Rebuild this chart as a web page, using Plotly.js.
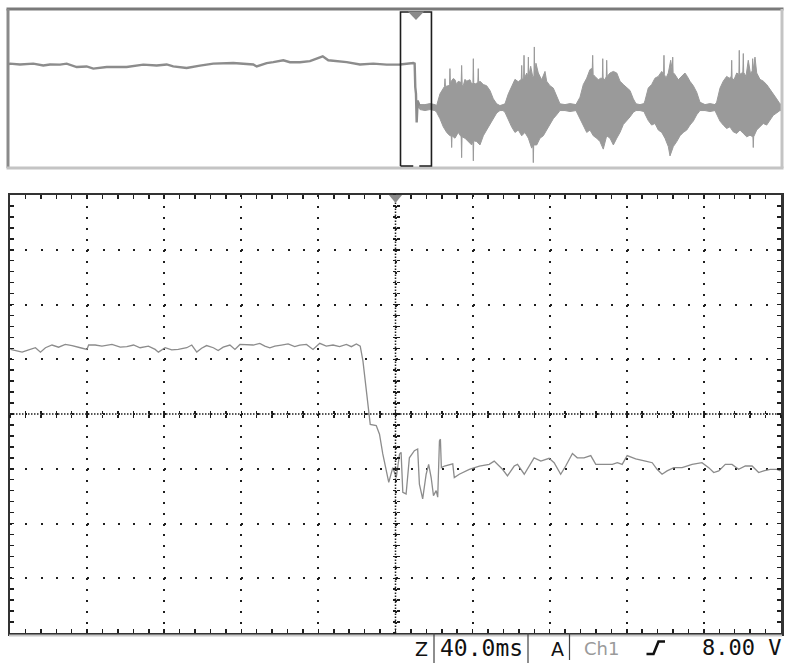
<!DOCTYPE html>
<html><head><meta charset="utf-8">
<script src="https://cdn.plot.ly/plotly-3.0.1.min.js"></script>
<style>html,body{margin:0;padding:0;background:#fff}#chart{width:785px;height:663px}</style>
</head><body><div id="chart"></div>
<script>
// ---- Main (zoomed) window: time in ms (40 ms/div), level in V (assumed 10 V/div) ----
const mainT = [-199.8,-197.2,-193.7,-190.3,-186.8,-184.2,-181.6,-178.2,-174.8,-171.3,-167.8,-163.5,-160.1,-159.2,-155.8,-152.3,-147.1,-142.8,-139.4,-135.9,-132.5,-128.2,-124.7,-123.0,-119.5,-116.1,-112.7,-108.3,-105.7,-103.1,-100.6,-98.0,-94.5,-92.0,-89.4,-85.9,-83.3,-80.7,-77.3,-73.8,-70.4,-67.8,-65.2,-62.6,-59.2,-55.7,-52.3,-49.7,-46.2,-42.8,-39.3,-35.9,-32.4,-29.0,-25.5,-22.9,-20.3,-19.0,
 -18.3,-16.9,-15.2,-14.3,-13.1,-10.0,-8.3,-6.6,-4.8,-3.5,-1.4,0.4,2.1,2.9,3.8,5.5,7.2,9.8,11.5,12.4,14.1,15.9,17.2,18.5,19.7,21.1,21.9,22.8,23.3,23.8,25.4,27.9,29.7,30.5,33.1,
 38.3,43.5,48.6,51.2,55.5,58.1,61.6,63.3,66.8,71.9,75.4,79.7,82.3,85.7,88.3,91.8,94.3,97.8,101.3,103.9,107.3,112.5,115.1,117.6,120.2,124.6,129.7,133.2,135.7,138.3,140.9,144.4,148.7,153.9,159.0,162.5,165.1,167.7,171.1,174.6,178.0,181.5,185.0,188.4,191.0,194.4,197.8,199.8];
const mainV = [11.8,11.6,11.3,11.7,12.1,11.3,12.1,12.6,12.2,12.7,12.5,12.1,11.8,12.6,12.6,12.4,12.7,12.2,12.3,12.6,12.1,12.4,11.8,11.3,12.1,11.7,11.8,12.1,12.6,11.3,12.0,12.5,12.1,11.6,12.2,12.6,11.8,12.7,12.7,12.6,12.9,12.4,12.1,12.4,12.6,12.8,12.3,12.6,12.7,11.8,12.9,12.4,12.6,12.3,12.7,12.3,12.8,12.6,
 12.4,9.7,4.8,1.1,-1.9,-2.1,-3.7,-7.3,-10.4,-12.5,-9.8,-11.6,-7.3,-7.0,-14.3,-14.6,-8.0,-6.7,-6.4,-12.8,-15.5,-11.0,-9.2,-11.6,-14.9,-14.0,-15.2,-4.9,-4.6,-9.8,-9.5,-9.2,-9.1,-11.6,-11.0,
 -10.1,-9.5,-9.2,-8.6,-10.1,-11.3,-9.5,-9.2,-11.0,-8.0,-8.6,-8.1,-8.9,-11.0,-9.5,-7.2,-8.0,-8.0,-7.6,-9.2,-9.2,-9.2,-8.9,-9.2,-7.6,-8.2,-8.6,-8.9,-10.1,-11.0,-10.4,-9.8,-9.8,-9.2,-8.9,-9.8,-10.7,-10.4,-9.2,-9.2,-10.1,-9.5,-9.5,-10.7,-10.4,-10.1,-10.1,-10.4];

// ---- Overview (whole record, time in s) ----
const ovPreT = [-5.271,-5.245,-5.116,-4.944,-4.815,-4.729,-4.599,-4.513,-4.384,-4.255,-4.169,-3.996,-3.738,-3.523,-3.350,-3.221,-3.136,-2.963,-2.791,-2.619,-2.361,-2.102,-2.058,-1.929,-1.844,-1.714,-1.628,-1.499,-1.370,-1.283,-1.205,-1.133,-1.025,-0.895,-0.724,-0.552,-0.379,-0.207,-0.035,-0.017,-0.009,0.000,0.009,0.022,0.043];
const ovPreV = [12.1,12.5,12.1,12.5,11.6,12.1,12.0,12.5,10.8,11.1,10.0,10.8,10.8,12.0,11.6,12.1,11.1,10.3,11.5,12.5,12.8,12.1,11.1,12.8,13.3,14.2,13.2,13.2,13.8,15.0,16.2,14.2,13.8,13.3,12.1,12.5,12.0,12.1,12.8,12.5,0.7,-2.7,-17.1,-6.1,-8.6];

const ovHiT = [0.022,0.052,0.116,0.181,0.245,0.267,0.310,0.332,0.368,0.375,0.381,0.417,0.434,0.439,0.444,0.482,0.504,0.525,0.546,0.584,0.590,0.597,0.611,0.633,0.655,0.698,0.720,0.736,0.741,0.746,0.762,0.799,0.805,0.810,0.827,0.870,0.913,0.956,0.999,1.043,1.085,1.124,
 1.150,1.193,1.236,1.279,1.322,1.361,1.366,1.372,1.391,1.396,1.401,1.431,1.447,1.452,1.457,1.482,1.508,1.524,1.529,1.534,1.550,1.580,1.624,1.667,1.688,1.731,1.774,1.818,1.860,1.925,1.990,2.067,
 2.119,2.162,2.206,2.248,2.278,2.283,2.289,2.313,2.356,2.387,2.408,2.413,2.418,2.442,2.459,2.464,2.470,2.507,2.550,2.594,2.636,2.679,2.723,2.765,2.808,2.843,2.894,2.946,
 2.959,3.001,3.045,3.088,3.131,3.175,3.199,3.204,3.209,3.230,3.260,3.291,3.312,3.317,3.322,3.346,3.389,3.433,3.475,3.505,3.540,3.583,3.627,3.669,3.734,3.798,3.863,
 3.885,3.928,3.970,4.014,4.048,4.074,4.079,4.084,4.109,4.144,4.172,4.177,4.182,4.208,4.223,4.229,4.234,4.264,4.293,4.324,4.345,4.350,4.355,4.380,4.402,4.444,4.487,4.531,4.574,4.616,4.660,4.702,4.729];
const ovHi = [-6.1,-8.1,-8.1,-7.6,-8.1,
 -8.6,-2.7,-1.0,1.0,4.9,1.0,1.4,2.0,10.0,3.0,5.0,4.4,2.0,3.6,3.0,11.6,2.0,1.4,4.6,3.7,4.4,2.2,3.0,15.0,3.0,2.2,3.0,10.0,3.0,3.7,2.0,1.4,-1.0,-5.2,-7.7,-8.6,-8.1,
 -7.7,-2.7,1.4,4.6,3.4,4.6,11.6,4.6,5.1,16.7,5.1,7.8,6.1,15.8,6.1,11.2,6.1,6.1,20.9,7.1,12.7,7.8,4.4,8.6,3.7,1.4,0.2,-3.5,-7.7,-8.1,-7.6,-8.1,
 -4.4,2.0,5.2,9.5,10.2,16.7,7.1,6.1,4.4,5.2,5.1,15.0,5.1,4.4,6.1,14.2,6.1,7.8,8.6,7.8,3.7,2.0,0.2,-1.0,-5.2,-7.7,-8.1,-7.6,
 -6.1,0.2,2.0,5.2,6.1,8.6,7.1,16.7,7.1,5.2,7.8,14.2,9.1,15.8,8.1,7.0,4.4,6.1,7.8,6.1,3.6,1.4,-1.9,-6.9,-8.1,-7.6,-8.1,
 -6.9,0.2,3.7,6.1,5.2,6.1,14.2,5.1,4.4,7.8,7.1,19.2,7.1,7.8,8.1,17.6,8.1,6.1,14.2,7.0,9.1,15.0,9.1,15.8,7.8,4.6,3.7,2.0,-0.2,-2.7,-5.2,-7.7,-8.1];

const ovLoT = [0.022,0.052,0.116,0.181,0.245,0.267,0.310,0.353,0.397,0.439,0.456,0.461,0.466,0.504,0.546,0.584,0.590,0.595,0.633,0.676,0.720,0.736,0.741,0.746,0.785,0.827,0.870,0.913,0.956,0.999,1.043,1.085,1.124,
 1.150,1.193,1.236,1.279,1.322,1.366,1.408,1.452,1.495,1.511,1.516,1.521,1.560,1.602,1.645,1.688,1.731,1.774,1.818,1.860,1.925,1.990,2.067,
 2.119,2.162,2.206,2.248,2.291,2.335,2.377,2.420,2.464,2.507,2.550,2.594,2.636,2.679,2.723,2.765,2.808,2.843,2.894,2.946,
 2.959,3.001,3.045,3.088,3.131,3.175,3.217,3.260,3.282,3.325,3.369,3.411,3.454,3.498,3.540,3.583,3.627,3.669,3.734,3.798,3.863,
 3.885,3.928,3.970,4.014,4.056,4.099,4.144,4.186,4.229,4.273,4.315,4.353,4.358,4.363,4.402,4.444,4.487,4.531,4.574,4.616,4.660,4.702,4.729];
const ovLo = [-9.1,-10.6,-11.1,-10.6,-11.1,-12.0,-15.2,-19.3,-22.1,-23.8,-23.8,-29.7,-23.8,-25.0,-22.1,-24.3,-34.8,-24.3,-25.0,-26.7,-28.4,-26.3,-36.4,-26.3,-26.7,-28.4,-23.8,-20.9,-18.1,-15.2,-12.3,-11.1,-11.1,
 -12.0,-16.1,-19.3,-22.1,-20.9,-23.8,-22.1,-25.0,-30.0,-28.4,-37.3,-28.4,-28.4,-25.0,-23.8,-20.9,-18.1,-15.2,-13.2,-11.1,-11.1,-11.6,-11.1,
 -15.2,-18.4,-22.1,-20.9,-23.8,-25.0,-26.7,-30.5,-23.8,-25.0,-28.4,-25.0,-22.1,-18.1,-16.4,-14.3,-12.0,-11.1,-11.1,-11.6,
 -12.8,-16.1,-18.4,-17.6,-20.9,-22.1,-25.0,-29.2,-33.9,-29.2,-26.7,-23.8,-22.1,-20.9,-18.4,-16.4,-13.2,-11.1,-11.1,-11.6,-11.1,
 -12.8,-16.4,-18.4,-20.1,-19.3,-21.8,-22.6,-20.9,-22.6,-24.3,-23.5,-24.3,-29.7,-24.3,-20.9,-19.3,-17.6,-18.4,-15.6,-13.5,-12.3,-11.1,-11.1];

const windowMs = [-200, 200];      // zoom window shown in main plot
const recordS = [-5.271, 4.729];   // full record in overview
const labels = {zoom:'Z', timebase:'40.0ms', acq:'A', ch:'Ch1', level:'8.00 V'};

const GRAY = '#8c8c8c';
const BURST = '#9a9a9a';
const INK = '#1e1e1e';
const px = (x) => x / 785, py = (y) => (663 - y) / 663;

const traces = [
  {x: mainT, y: mainV, xaxis:'x', yaxis:'y', mode:'lines', line:{color:GRAY, width:1.3}, hoverinfo:'skip'},
  // carriers for crosshair tick axes (invisible)
  {x: mainT, y: mainV, xaxis:'x3', yaxis:'y', mode:'lines', line:{color:'rgba(0,0,0,0)', width:0}, hoverinfo:'skip'},
  {x: mainT, y: mainV, xaxis:'x4', yaxis:'y', mode:'lines', line:{color:'rgba(0,0,0,0)', width:0}, hoverinfo:'skip'},
  {x: mainT, y: mainV, xaxis:'x', yaxis:'y3', mode:'lines', line:{color:'rgba(0,0,0,0)', width:0}, hoverinfo:'skip'},
  {x: mainT, y: mainV, xaxis:'x', yaxis:'y4', mode:'lines', line:{color:'rgba(0,0,0,0)', width:0}, hoverinfo:'skip'},
  // overview
  {x: ovHiT, y: ovHi, xaxis:'x2', yaxis:'y2', mode:'lines', line:{color:BURST, width:1}, hoverinfo:'skip'},
  {x: ovLoT, y: ovLo, xaxis:'x2', yaxis:'y2', mode:'lines', fill:'tonexty', fillcolor:BURST, line:{color:BURST, width:1}, hoverinfo:'skip'},
  {x: ovPreT, y: ovPreV, xaxis:'x2', yaxis:'y2', mode:'lines', line:{color:GRAY, width:2.4}, hoverinfo:'skip'}
];

const tickCommon = {showticklabels:false, showgrid:false, zeroline:false, showline:false, tickcolor:INK, tickwidth:1.5, ticklen:3};

const layout = {
  width:785, height:663, margin:{l:0,r:0,t:0,b:0}, showlegend:false,
  paper_bgcolor:'#ffffff', plot_bgcolor:'#ffffff', hovermode:false,
  xaxis: {domain:[px(10), px(781)], range:windowMs, anchor:'y', tick0:0, dtick:40,
    showgrid:true, gridcolor:INK, gridwidth:2, griddash:'2px,8.95px', zeroline:false,
    showline:true, linecolor:'#333', linewidth:2.5, mirror:'allticks',
    ticks:'inside', ticklen:4, tickwidth:1.5, tickcolor:INK, showticklabels:false,
    minor:{tick0:0, dtick:8, ticks:'inside', ticklen:4, tickwidth:1.5, tickcolor:INK, showgrid:false}},
  yaxis: {domain:[py(633), py(195)], range:[-40,40], anchor:'x', tick0:0, dtick:10,
    showgrid:true, gridcolor:INK, gridwidth:2, griddash:'2px,13.42px', zeroline:false,
    showline:true, linecolor:'#333', linewidth:2.5, mirror:'allticks',
    ticks:'inside', ticklen:4, tickwidth:1.5, tickcolor:INK, showticklabels:false,
    minor:{tick0:0, dtick:2, ticks:'inside', ticklen:4, tickwidth:1.5, tickcolor:INK, showgrid:false}},
  xaxis3: Object.assign({overlaying:'x', anchor:'free', position:py(414), range:windowMs, tick0:0, dtick:8, ticks:'inside'}, tickCommon),
  xaxis4: Object.assign({overlaying:'x', anchor:'free', position:py(414), range:windowMs, tick0:0, dtick:8, ticks:'outside'}, tickCommon),
  yaxis3: Object.assign({overlaying:'y', anchor:'free', position:px(395.5), range:[-40,40], tick0:0, dtick:2, ticks:'inside'}, tickCommon),
  yaxis4: Object.assign({overlaying:'y', anchor:'free', position:px(395.5), range:[-40,40], tick0:0, dtick:2, ticks:'outside'}, tickCommon),
  xaxis2: {domain:[px(8), px(782)], range:recordS, anchor:'y2', visible:false},
  yaxis2: {domain:[py(168), py(9)], range:[-40,40], anchor:'x2', visible:false},
  shapes: [
    {type:'line', xref:'x', yref:'y', x0:windowMs[0], x1:windowMs[1], y0:0, y1:0, line:{color:INK, width:1.5, dash:'1.5px,1.5px'}},
    {type:'line', xref:'x', yref:'y', x0:0, x1:0, y0:-40, y1:40, line:{color:INK, width:1.5, dash:'1.5px,1.5px'}},
    {type:'line', xref:'paper', yref:'paper', x0:px(9), x1:px(782), y0:py(635.5), y1:py(635.5), line:{color:'#c8c8c8', width:2}},
    {type:'line', xref:'paper', yref:'paper', x0:px(6.5), x1:px(783.5), y0:py(9), y1:py(9), line:{color:'#7a7a7a', width:3}},
    {type:'line', xref:'paper', yref:'paper', x0:px(8), x1:px(8), y0:py(9), y1:py(168), line:{color:'#8a8a8a', width:3}},
    {type:'line', xref:'paper', yref:'paper', x0:px(6.5), x1:px(783.5), y0:py(168), y1:py(168), line:{color:'#c4c4c4', width:3}},
    {type:'line', xref:'paper', yref:'paper', x0:px(782), x1:px(782), y0:py(9), y1:py(168), line:{color:'#c4c4c4', width:3}},
    {type:'path', xref:'x2', yref:'paper', line:{color:INK, width:1.6},
      path:`M ${windowMs[0]/1000},${py(166)} L ${windowMs[0]/1000},${py(12)} L ${windowMs[1]/1000},${py(12)} L ${windowMs[1]/1000},${py(166)} L 0.043,${py(166)} M -0.035,${py(166)} L ${windowMs[0]/1000},${py(166)}`},
    {type:'path', xref:'x2', yref:'paper', fillcolor:'#8a8a8a', line:{width:0},
      path:`M -0.105,${py(11.5)} L 0.105,${py(11.5)} L 0,${py(20)} Z`},
    {type:'path', xref:'x', yref:'paper', fillcolor:'#8a8a8a', line:{width:0},
      path:`M -3.4,${py(195)} L 3.4,${py(195)} L 0,${py(203)} Z`},
    {type:'path', xref:'paper', yref:'paper', line:{color:'#444', width:1.2},
      path:`M ${px(434)},${py(633)} L ${px(434)},${py(663)} M ${px(528)},${py(633)} L ${px(528)},${py(663)}`},
    {type:'line', xref:'paper', yref:'paper', x0:px(569.5), x1:px(569.5), y0:py(633), y1:py(660), line:{color:'#444', width:1.2}},
    {type:'path', xref:'paper', yref:'paper', line:{color:'#111', width:2.6},
      path:`M ${px(646.5)},${py(654)} L ${px(653.5)},${py(654)} L ${px(658.5)},${py(641.5)} L ${px(665)},${py(641.5)}`}
  ],
  annotations: [
    {text:labels.zoom, xref:'paper', yref:'paper', x:px(421), y:py(648.5), xanchor:'center', yanchor:'middle', showarrow:false, font:{family:'DejaVu Sans', size:19, color:'#111'}},
    {text:labels.timebase, xref:'paper', yref:'paper', x:px(481), y:py(647.5), xanchor:'center', yanchor:'middle', showarrow:false, font:{family:'DejaVu Sans Mono', size:23, color:'#111'}},
    {text:labels.acq, xref:'paper', yref:'paper', x:px(557.5), y:py(648.5), xanchor:'center', yanchor:'middle', showarrow:false, font:{family:'DejaVu Sans', size:19, color:'#111'}},
    {text:labels.ch, xref:'paper', yref:'paper', x:px(601), y:py(648.5), xanchor:'center', yanchor:'middle', showarrow:false, font:{family:'DejaVu Sans', size:18, color:'#9a9a9a'}},
    {text:labels.level, xref:'paper', yref:'paper', x:px(783), y:py(647.5), xanchor:'right', yanchor:'middle', showarrow:false, font:{family:'DejaVu Sans Mono', size:22, color:'#111'}}
  ]
};

Plotly.newPlot('chart', traces, layout, {staticPlot:true, displayModeBar:false});
</script></body></html>
